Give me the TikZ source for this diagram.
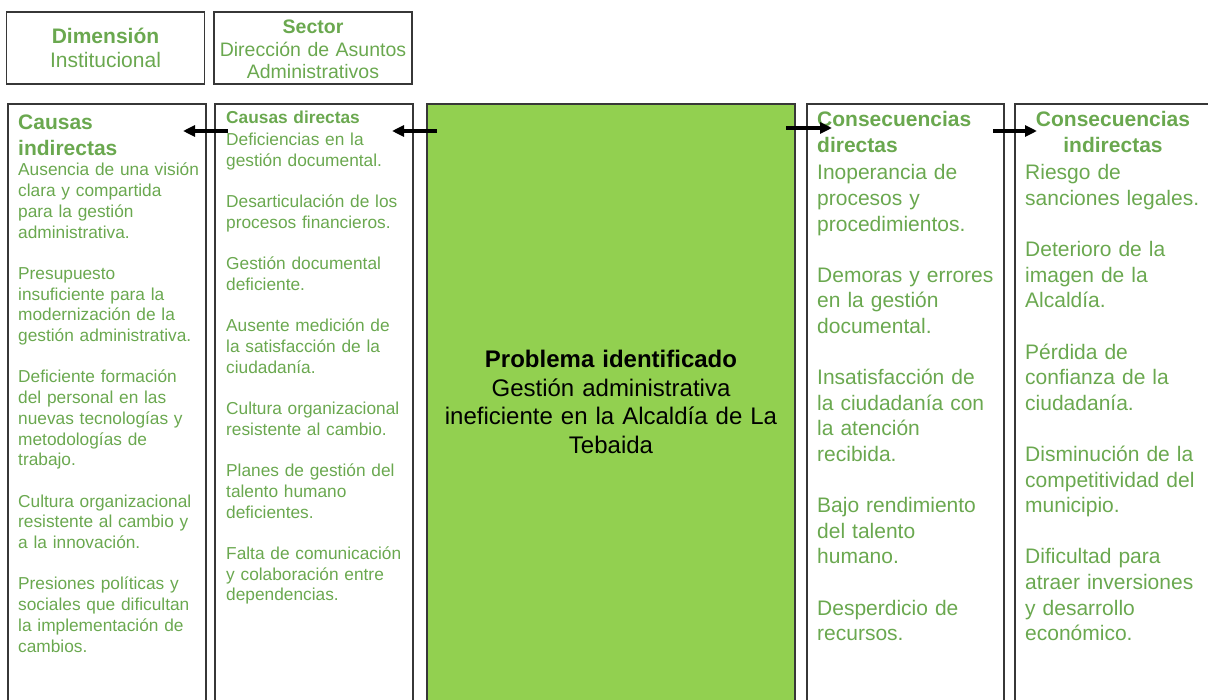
\documentclass[tikz,border=0pt]{standalone}
\usepackage{fontspec}
\setmainfont{Liberation Sans}
\usetikzlibrary{arrows.meta}
\definecolor{textoverde}{RGB}{106,168,79}
\definecolor{verdeproblema}{RGB}{146,208,80}
\definecolor{borde}{RGB}{55,55,55}
\newcommand{\hueco}{\\[\baselineskip]}
\tikzset{caja/.style={draw=borde,line width=1.3pt,inner sep=0pt},
 titulo/.style={text=textoverde,inner sep=0pt,text width=240pt,font=\bfseries\fontsize{21}{25.5}\selectfont},
 cuerpo/.style={text=textoverde,inner sep=0pt,text width=240pt,align=left,anchor=base west},
 flecha/.style={-{Triangle[length=12pt,width=11pt]},line width=3.5pt},
 every picture/.style={line join=miter}}
\begin{document}
\begin{tikzpicture}[x=1pt,y=-1pt]
\useasboundingbox (0,0) rectangle (1208,700);
\clip (0,0) rectangle (1208,700);
% cajas superiores
\node[caja,minimum width=198pt,minimum height=72pt] (dimension) at (105.5,48) {};
\node[caja,minimum width=198pt,minimum height=72pt] (sector) at (313,48) {};
\node[text=textoverde,inner sep=0pt,text width=190pt,align=center,anchor=base,font=\fontsize{21}{24}\selectfont] (dimension-txt) at (105.5,44) {\textbf{Dimensión}\\Institucional};
\node[text=textoverde,inner sep=0pt,text width=190pt,align=center,anchor=base,font=\fontsize{19.5}{22.5}\selectfont] (sector-txt) at (313,34) {\textbf{Sector}\\Dirección de Asuntos\\Administrativos};
% columnas
\node[caja,minimum width=198pt,minimum height=616pt] (causasind) at (107,412) {};
\node[caja,minimum width=198pt,minimum height=616pt] (causasdir) at (314,412) {};
\node[caja,fill=verdeproblema,minimum width=368pt,minimum height=616pt] (problema) at (611,412) {};
\node[caja,minimum width=197pt,minimum height=616pt] (consdir) at (905.5,412) {};
\node[caja,minimum width=198pt,minimum height=616pt] (consind) at (1114,412) {};
% titulos
\node[titulo,align=left,anchor=base west] (causasind-tit) at (18,130) {Causas\\indirectas};
\node[titulo,align=left,anchor=base west,font=\bfseries\fontsize{17.3}{20.7}\selectfont] (causasdir-tit) at (226,124) {Causas directas};
\node[titulo,align=left,anchor=base west] (consdir-tit) at (817,127) {Consecuencias\\directas};
\node[titulo,align=center,anchor=base,text width=190pt] (consind-tit) at (1113,127) {Consecuencias\\indirectas};
% textos
\node[cuerpo,font=\fontsize{17.3}{20.7}\selectfont] (causasind-txt) at (18,176) {Ausencia de una visión\\clara y compartida\\para la gestión\\administrativa.\hueco
Presupuesto\\insuficiente para la\\modernización de la\\gestión administrativa.\hueco
Deficiente formación\\del personal en las\\nuevas tecnologías y\\metodologías de\\trabajo.\hueco
Cultura organizacional\\resistente al cambio y\\a la innovación.\hueco
Presiones políticas y\\sociales que dificultan\\la implementación de\\cambios.};
\node[cuerpo,font=\fontsize{17.3}{20.7}\selectfont] (causasdir-txt) at (226,145.5) {Deficiencias en la\\gestión documental.\hueco
Desarticulación de los\\procesos financieros.\hueco
Gestión documental\\deficiente.\hueco
Ausente medición de\\la satisfacción de la\\ciudadanía.\hueco
Cultura organizacional\\resistente al cambio.\hueco
Planes de gestión del\\talento humano\\deficientes.\hueco
Falta de comunicación\\y colaboración entre\\dependencias.};
\node[inner sep=0pt,text width=360pt,align=center,anchor=base,font=\fontsize{24}{28.5}\selectfont] (problema-txt) at (611,368) {\textbf{Problema identificado}\\Gestión administrativa\\ineficiente en la Alcaldía de La\\Tebaida};
\node[cuerpo,font=\fontsize{21}{25.6}\selectfont] (consdir-txt) at (817,180) {Inoperancia de\\procesos y\\procedimientos.\hueco
Demoras y errores\\en la gestión\\documental.\hueco
Insatisfacción de\\la ciudadanía con\\la atención\\recibida.\hueco
Bajo rendimiento\\del talento\\humano.\hueco
Desperdicio de\\recursos.};
\node[cuerpo,font=\fontsize{21}{25.6}\selectfont] (consind-txt) at (1025,180) {Riesgo de\\sanciones legales.\hueco
Deterioro de la\\imagen de la\\Alcaldía.\hueco
Pérdida de\\confianza de la\\ciudadanía.\hueco
Disminución de la\\competitividad del\\municipio.\hueco
Dificultad para\\atraer inversiones\\y desarrollo\\económico.};
% flechas
\coordinate (f1a) at (437,131);
\coordinate (f1b) at (392,131);
\coordinate (f2a) at (228,131);
\coordinate (f2b) at (183,131);
\coordinate (f3a) at (786,128);
\coordinate (f3b) at (832,128);
\coordinate (f4a) at (993,131);
\coordinate (f4b) at (1037,131);
\draw[flecha] (f1a) -- (f1b);
\draw[flecha] (f2a) -- (f2b);
\draw[flecha] (f3a) -- (f3b);
\draw[flecha] (f4a) -- (f4b);
\end{tikzpicture}
\end{document}
